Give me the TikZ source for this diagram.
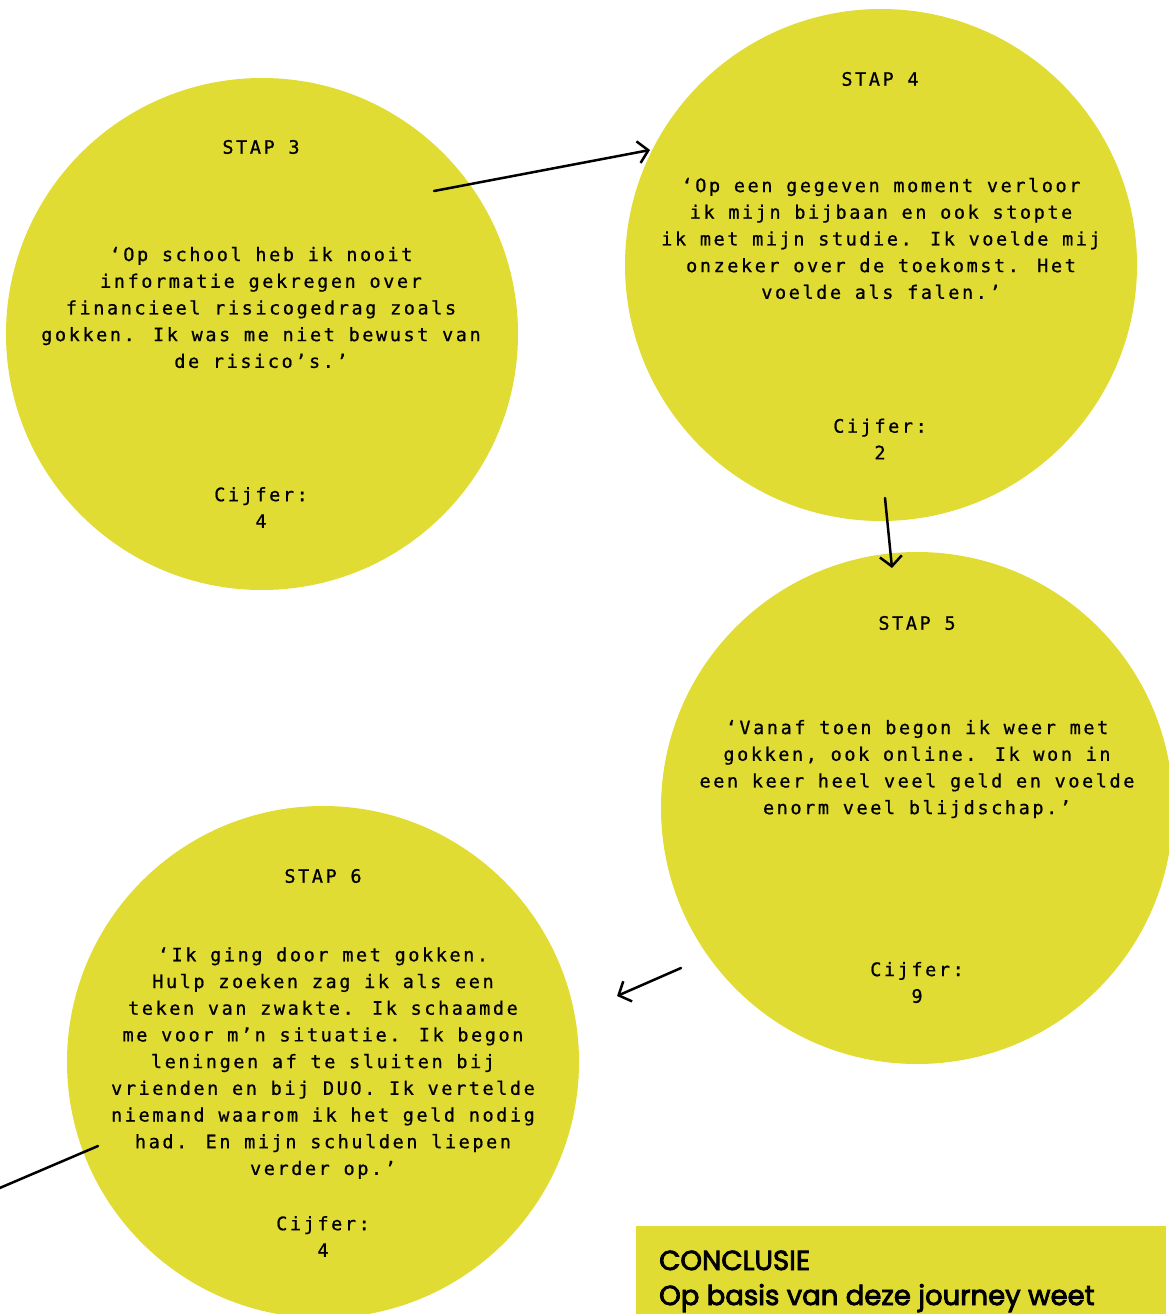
\documentclass[tikz,border=0pt]{standalone}
\usepackage{fontspec}
\newfontfamily\monof[LetterSpace=14,FakeBold=0.8]{DejaVu Sans Mono}
\newfontfamily\concf[FakeBold=3]{Poppins}
\usetikzlibrary{arrows.meta}
\definecolor{jy}{HTML}{E1DC34}
\begin{document}
\begin{tikzpicture}[x=1pt,y=-1pt,
  bubble/.style={circle,fill=jy,minimum size=512pt,inner sep=0pt},
  mtext/.style={font=\monof\fontsize{18.5}{26.7}\selectfont,align=center,inner sep=0pt,text=black},
  conn/.style={line width=2.5pt,draw=black,line cap=round},
  arr/.style={conn,-{Straight Barb[length=10pt,width=22pt,line width=2.5pt]}},
  concbox/.style={fill=jy,anchor=north west,minimum width=530pt,minimum height=110pt,inner sep=0pt},
  ctext/.style={font=\concf\fontsize{27.5}{35}\selectfont,anchor=base west,inner sep=0pt}
]
\useasboundingbox (0,0) rectangle (1169,1314);
\clip (0,0) rectangle (1169,1314);

% circles
\node[bubble] (c3) at (262,334) {};
\node[bubble] (c4) at (881,265) {};
\node[bubble] (c5) at (917,808) {};
\node[bubble] (c6) at (323,1062) {};

% STAP 3
\node[mtext] (s3) at (261,147) {STAP 3};
\node[mtext] (q3) at (261,307.5) {‘Op school heb ik nooit\\informatie gekregen over\\financieel risicogedrag zoals\\gokken. Ik was me niet bewust van\\de risico’s.’};
\node[mtext] (g3) at (261,507.5) {Cijfer:\\4};

% STAP 4
\node[mtext] (s4) at (880,79) {STAP 4};
\node[mtext] (q4) at (881,238.5) {‘Op een gegeven moment verloor\\ik mijn bijbaan en ook stopte\\ik met mijn studie. Ik voelde mij\\onzeker over de toekomst. Het\\voelde als falen.’};
\node[mtext] (g4) at (880,439) {Cijfer:\\2};

% STAP 5
\node[mtext] (s5) at (917,623) {STAP 5};
\node[mtext] (q5) at (917,769) {‘Vanaf toen begon ik weer met\\gokken, ook online. Ik won in\\een keer heel veel geld en voelde\\enorm veel blijdschap.’};
\node[mtext] (g5) at (917,982.5) {Cijfer:\\9};

% STAP 6
\node[mtext] (s6) at (323,876) {STAP 6};
\node[mtext] (q6) at (323,1063) {‘Ik ging door met gokken.\\Hulp zoeken zag ik als een\\teken van zwakte. Ik schaamde\\me voor m’n situatie. Ik begon\\leningen af te sluiten bij\\vrienden en bij DUO. Ik vertelde\\niemand waarom ik het geld nodig\\had. En mijn schulden liepen\\verder op.’};
\node[mtext] (g6) at (323,1236.5) {Cijfer:\\4};

% connector end points
\coordinate (a1s) at (434,191);
\coordinate (a1e) at (650,150);
\coordinate (a2s) at (885,498);
\coordinate (a2e) at (892,568);
\coordinate (a3s) at (681,968);
\coordinate (a3e) at (617,996);
\coordinate (a4s) at (98,1146);
\coordinate (a4e) at (-5,1190);

\draw[arr] (a1s) -- (a1e);
\draw[arr] (a2s) -- (a2e);
\draw[arr] (a3s) -- (a3e);
\draw[conn] (a4s) -- (a4e);

% conclusion
\node[concbox] (conc) at (636,1226) {};
\node[ctext] (ct1) at (659,1270) {CONCLUSIE};
\node[ctext] (ct2) at (659,1305) {Op basis van deze journey weet};
\end{tikzpicture}
\end{document}
